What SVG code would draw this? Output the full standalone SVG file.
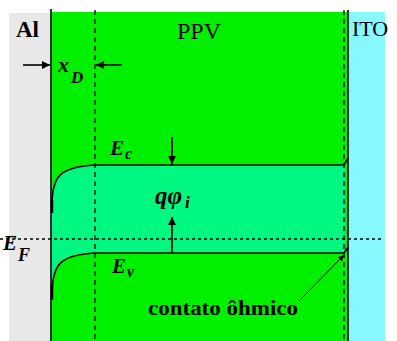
<svg xmlns="http://www.w3.org/2000/svg" width="397" height="341" viewBox="0 0 397 341">
<defs>
<style>
text{font-family:'Liberation Serif','Times New Roman',Times,serif;fill:#000}
.it{font-style:italic;font-weight:bold}
.ln{stroke:#000;stroke-width:1.6;fill:none}
.dash{stroke:#000;stroke-width:1.3;stroke-dasharray:5,4;fill:none}
.dot{stroke:#000;stroke-width:1.3;stroke-dasharray:3,3;fill:none}
</style>
<marker id="ah" viewBox="0 0 10 10" refX="10" refY="5" markerWidth="8" markerHeight="8" markerUnits="userSpaceOnUse" orient="auto">
<path d="M0,0 L10,5 L0,10 Z" fill="#000"/>
</marker>
<marker id="ahs" viewBox="0 0 10 10" refX="10" refY="5" markerWidth="6" markerHeight="6" markerUnits="userSpaceOnUse" orient="auto">
<path d="M0,0 L10,5 L0,10 Z" fill="#000"/>
</marker>
</defs>
<rect width="397" height="341" fill="#fff"/>
<g id="al">
<rect x="9" y="13" width="43" height="328" fill="#e8e8e8"/>
<text x="16" y="37" font-size="23" font-weight="bold">Al</text>
</g>
<g id="ito">
<rect x="348" y="12" width="37" height="329" fill="#88f8ff"/>
<text x="352" y="36" font-size="22">ITO</text>
</g>
<g id="ppv">
<rect x="52" y="12" width="296" height="329" fill="#00f000"/>
<text x="177" y="39" font-size="24">PPV</text>
</g>
<g id="gap">
<path d="M52,205 C52,176 60,167 95,165 L345,165 L345,253 L95,253 C60,255 52,264 52,295 Z" fill="#00f880"/>
</g>
<g id="connectors">
<line class="ln" x1="51" y1="9" x2="51" y2="341"/>
<line class="ln" x1="348" y1="10" x2="348" y2="341"/>
<line class="dash" x1="95" y1="10" x2="95" y2="341"/>
<line class="dash" x1="344" y1="10" x2="344" y2="341"/>
<line class="dot" x1="0" y1="239" x2="384" y2="239"/>
<path class="ln" d="M52,205 C52,176 60,167 95,165 L344,165 L348,158"/>
<path class="ln" d="M52,295 C52,264 60,255 95,253 L344,253 L348,247"/>
<line x1="52" y1="200" x2="52" y2="213" stroke="#000" stroke-width="2.5"/>
<line x1="52" y1="285" x2="52" y2="300" stroke="#000" stroke-width="2.5"/>
<line class="ln" x1="23" y1="65" x2="50" y2="65" marker-end="url(#ah)"/>
<line class="ln" x1="122" y1="65" x2="96" y2="65" marker-end="url(#ah)"/>
<line class="ln" x1="172" y1="137" x2="172" y2="164" marker-end="url(#ah)"/>
<line class="ln" x1="172" y1="253" x2="172" y2="217" marker-end="url(#ah)"/>
<line x1="299" y1="301" x2="344" y2="255" stroke="#000" stroke-width="1" marker-end="url(#ahs)"/>
</g>
<g id="labels">
<text class="it" x="58" y="72" font-size="22">x</text>
<text class="it" x="71" y="83" font-size="17">D</text>
<text class="it" x="110" y="155" font-size="21">E</text>
<text class="it" x="125" y="159" font-size="16">c</text>
<text class="it" x="112" y="273" font-size="21">E</text>
<text class="it" x="127" y="277" font-size="16">v</text>
<text class="it" x="3" y="250" font-size="21">E</text>
<text class="it" x="18" y="261" font-size="18">F</text>
<text class="it" x="155" y="204" font-size="25">qφ</text>
<text class="it" x="185" y="208" font-size="17">i</text>
<text x="148" y="315" font-size="22" font-weight="bold" textLength="150" lengthAdjust="spacingAndGlyphs">contato ôhmico</text>
</g>
</svg>
